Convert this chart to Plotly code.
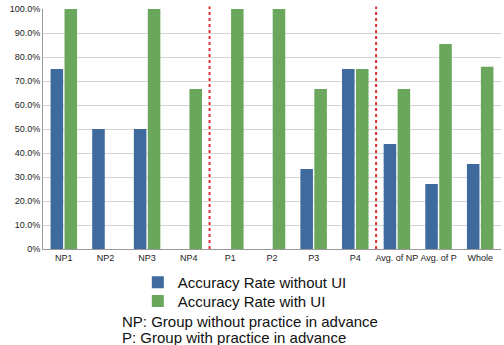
import plotly.graph_objects as go

categories = ["NP1", "NP2", "NP3", "NP4", "P1", "P2", "P3", "P4", "Avg. of NP", "Avg. of P", "Whole"]
without_ui = [0.75, 0.50, 0.50, 0.0, 0.0, 0.0, 0.333, 0.75, 0.4375, 0.271, 0.354]
with_ui = [1.0, 0.0, 1.0, 0.667, 1.0, 1.0, 0.667, 0.75, 0.667, 0.854, 0.759]
tick_vals = [0, 0.1, 0.2, 0.3, 0.4, 0.5, 0.6, 0.7, 0.8, 0.9, 1.0]
tick_text = ["0%", "10.0%", "20.0%", "30.0%", "40.0%", "50.0%", "60.0%", "70.0%", "80.0%", "90.0%", "100.0%"]
divider_after = [3.5, 7.5]
notes = ["NP: Group without practice in advance", "P: Group with practice in advance"]

fig = go.Figure()
fig.add_trace(go.Bar(x=categories, y=without_ui, name="Accuracy Rate without UI",
                     marker=dict(color="#3e6a9d", line=dict(width=0)), legend="legend"))
fig.add_trace(go.Bar(x=categories, y=with_ui, name="Accuracy Rate with UI",
                     marker=dict(color="#6aa75c", line=dict(width=0)), legend="legend2"))

for xd in divider_after:
    fig.add_shape(type="line", xref="x", yref="paper", x0=xd, x1=xd, y0=0, y1=1.01,
                  line=dict(color="#e03030", width=2, dash="dot"))

for i, t in enumerate(notes):
    fig.add_annotation(text=t, xref="paper", yref="paper", x=(120 - 43) / 458,
                       y=-(321 - 249 + 16.5 * i) / 240, xanchor="left", yanchor="middle",
                       showarrow=False, font=dict(size=15, color="#111", family="Liberation Sans"))

legend_common = dict(xanchor="left", yanchor="top", font=dict(size=15, color="#111"),
                     bgcolor="rgba(0,0,0,0)", itemwidth=30)

fig.update_layout(
    width=504, height=345,
    margin=dict(l=43, r=3, t=9, b=96),
    paper_bgcolor="white", plot_bgcolor="white",
    barmode="group", bargap=0.33, bargroupgap=0.1,
    font=dict(family="Liberation Sans", color="#222"),
    showlegend=True,
    legend=dict(x=0.207, y=-0.071, **legend_common),
    legend2=dict(x=0.207, y=-0.149, **legend_common),
    xaxis=dict(tickfont=dict(size=9), showline=True, linecolor="#999", linewidth=1,
               ticks="", range=[-0.5, 10.5]),
    yaxis=dict(range=[0, 1.0], tickvals=tick_vals, ticktext=tick_text,
               tickfont=dict(size=9), showgrid=True, gridcolor="#d4d4d4", gridwidth=1,
               showline=True, linecolor="#999", linewidth=1, zeroline=False, ticks=""),
)

fig.write_html("out.html")
